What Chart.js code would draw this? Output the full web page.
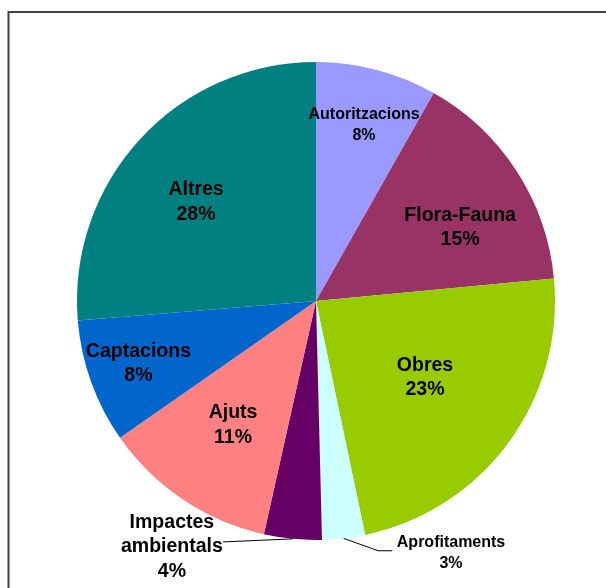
<!DOCTYPE html>
<html>
<head>
<meta charset="utf-8">
<script src="https://cdn.jsdelivr.net/npm/chart.js@4/dist/chart.umd.min.js"></script>
<style>
  html, body { margin: 0; padding: 0; background: #fff; }
  #wrap { width: 606px; height: 588px; }
</style>
</head>
<body>
<div id="wrap"><canvas id="pieChart" width="606" height="588"></canvas></div>
<script>
const categories = ["Autoritzacions", "Flora-Fauna", "Obres", "Aprofitaments", "Impactes ambientals", "Ajuts", "Captacions", "Altres"];
const shares = [8.2, 15.3, 23.2, 2.9, 3.9, 11.8, 8.4, 26.3];
const percentLabels = ["8%", "15%", "23%", "3%", "4%", "11%", "8%", "28%"];
const sliceColors = ["#9999FF", "#993366", "#99CC00", "#CCFFFF", "#660066", "#FF8080", "#0066CC", "#008080"];

// label placement, in units of the pie radius from its centre
const labelStyle = [
  { lines: ["Autoritzacions"], at: [0.201, -0.745], size: 16, lh: 21.5 },
  { lines: ["Flora-Fauna"], at: [0.603, -0.316], size: 19.5, lh: 23.5 },
  { lines: ["Obres"], at: [0.456, 0.314], size: 19.5, lh: 24 },
  { lines: ["Aprofitaments"], at: [0.565, 1.046], size: 16, lh: 21.5,
    leader: [[0.26, 1.045], [0.319, 1.045]] },
  { lines: ["Impactes", "ambientals"], at: [-0.603, 1.021], size: 19.5, lh: 24.5,
    leader: [[-0.389, 1.008]] },
  { lines: ["Ajuts"], at: [-0.347, 0.510], size: 19.5, lh: 25 },
  { lines: ["Captacions"], at: [-0.743, 0.255], size: 19.5, lh: 24 },
  { lines: ["Altres"], at: [-0.502, -0.421], size: 19.5, lh: 25 }
];

const frame = {
  id: "frame",
  afterDraw(chart) {
    const ctx = chart.ctx;
    ctx.save();
    ctx.strokeStyle = "#404040";
    ctx.lineWidth = 2;
    ctx.strokeRect(8.5, 12, 700, 700);
    ctx.restore();
  }
};

const sliceLabels = {
  id: "sliceLabels",
  afterDatasetsDraw(chart) {
    const ctx = chart.ctx;
    const arcs = chart.getDatasetMeta(0).data;
    ctx.save();
    arcs.forEach((arc, i) => {
      const st = labelStyle[i];
      const r = arc.outerRadius;
      const cx = arc.x, cy = arc.y;
      const lx = cx + st.at[0] * r;
      const ly = cy + st.at[1] * r + 2;

      if (st.leader) {
        const mid = (arc.startAngle + arc.endAngle) / 2;
        ctx.strokeStyle = "#000";
        ctx.lineWidth = 1;
        ctx.beginPath();
        ctx.moveTo(cx + Math.cos(mid) * r, cy + Math.sin(mid) * r);
        st.leader.forEach(p => ctx.lineTo(cx + p[0] * r, cy + p[1] * r));
        ctx.stroke();
      }

      const lines = st.lines.concat([percentLabels[i]]);
      ctx.fillStyle = "#000";
      ctx.font = "bold " + st.size + "px 'Liberation Sans', Arial, sans-serif";
      ctx.textAlign = "center";
      ctx.textBaseline = "middle";
      const top = ly - (lines.length - 1) * st.lh / 2;
      lines.forEach((t, k) => ctx.fillText(t, lx, top + k * st.lh));
    });
    ctx.restore();
  }
};

new Chart(document.getElementById("pieChart"), {
  type: "pie",
  data: {
    labels: categories,
    datasets: [{
      data: shares,
      backgroundColor: sliceColors,
      borderWidth: 0
    }]
  },
  options: {
    responsive: false,
    animation: false,
    events: [],
    layout: { padding: { left: 77, right: 51, top: 62, bottom: 48 } },
    plugins: {
      legend: { display: false },
      tooltip: { enabled: false }
    }
  },
  plugins: [frame, sliceLabels]
});
</script>
</body>
</html>
